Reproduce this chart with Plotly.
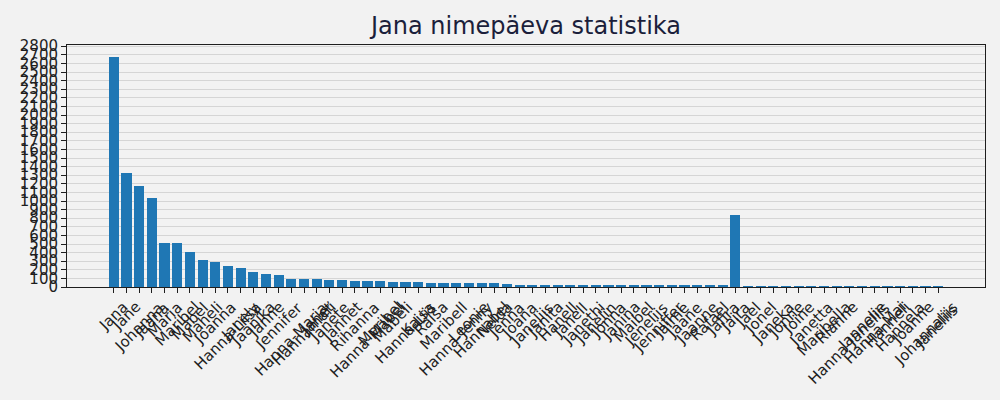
import plotly.graph_objects as go

names = [
    "Jana", "Jane", "Johanna", "Jaana", "Maria", "Maribel", "Mabel", "Maheli",
    "Joanna", "Hanna-Liisa", "Janely", "Jaanika", "Janne", "Jennifer",
    "Hanna-Maria", "Hannamari", "Janet", "Janete", "Jannet", "Rihanna",
    "Hanna-Mabel", "Meribel", "Mabeli", "Hanna-Liis", "Kaisa", "Raisa",
    "Maribell", "Hanna-Jenny", "Leonie", "Hannabel", "Nelda", "Jenna",
    "Joana", "Janeliis", "Janita", "Hanell", "Janell", "Janethi", "Janelin",
    "Jonna", "Janina", "Maibel", "Jeneliis", "Jenniffer", "Jaime", "Jaane",
    "Jaanne", "Rafael", "Jafira", "Jaira", "Jael", "Jonel", "Janeka", "Jonne",
    "Joine", "Janetta", "Maribella", "Rianne", "Hanna-Janeliis", "Jannelie",
    "Hanna-Mai", "Hanneli", "Hannela", "Joanne", "Johannaliis", "Janeliis ",
]

counts = [
    2680, 1330, 1170, 1040, 510, 510, 410, 310, 290, 245, 220, 175, 150, 135,
    95, 95, 95, 82, 80, 66, 66, 66, 54, 54, 54, 43, 43, 43, 43, 43, 43, 40,
    28, 28, 28, 28, 28, 28, 28, 28, 15, 15, 15, 15, 15, 15, 15, 15, 15, 840,
    10, 10, 10, 10, 10, 10, 10, 10, 10, 10, 10, 10, 10, 10, 10, 10,
]

y_ticks = list(range(0, 2900, 100))

positions = list(range(len(names)))
n = len(names)
span = (n - 1) + 0.8
x_range = [-0.4 - 0.05 * span, (n - 1) + 0.4 + 0.05 * span]
y_range = [0, max(counts) * 1.05]

FONT = "DejaVu Sans"
TXT = "#1e1e1e"

fig = go.Figure()
fig.add_trace(go.Bar(
    x=positions, y=counts, width=0.8,
    marker=dict(color="#1f77b4", line=dict(width=0)),
    hovertext=names,
))

annotations = []
for i, nm in zip(positions, names):
    annotations.append(dict(
        x=i, xref="x", y=0, yref="paper", yshift=-10,
        text=nm, showarrow=False, textangle=-45,
        xanchor="center", yanchor="top",
        font=dict(family=FONT, size=15, color=TXT),
        borderpad=0,
    ))

fig.update_layout(
    width=1000, height=400,
    paper_bgcolor="#f2f2f2", plot_bgcolor="#f2f2f2",
    margin=dict(l=67, r=15, t=45, b=113),
    title=dict(text="Jana nimepäeva statistika", x=0.526, xanchor="center",
               y=0.935, yanchor="middle",
               font=dict(family=FONT, size=24, color="#1b1f3b")),
    showlegend=False,
    bargap=0,
    annotations=annotations,
    font=dict(family=FONT, size=15, color=TXT),
)
fig.update_xaxes(
    range=x_range, tickvals=positions, showticklabels=False,
    ticks="outside", ticklen=5, tickcolor=TXT,
    showline=True, linecolor=TXT, linewidth=1, mirror=True,
    showgrid=False, zeroline=False,
)
fig.update_yaxes(
    range=y_range, tickvals=y_ticks, ticktext=[str(v) for v in y_ticks],
    ticks="outside", ticklen=5, tickcolor=TXT,
    tickfont=dict(family=FONT, size=15, color=TXT),
    showline=True, linecolor=TXT, linewidth=1, mirror=True,
    showgrid=True, gridcolor="#d5d5d5", gridwidth=1, zeroline=False,
)

fig.write_html("out.html")
